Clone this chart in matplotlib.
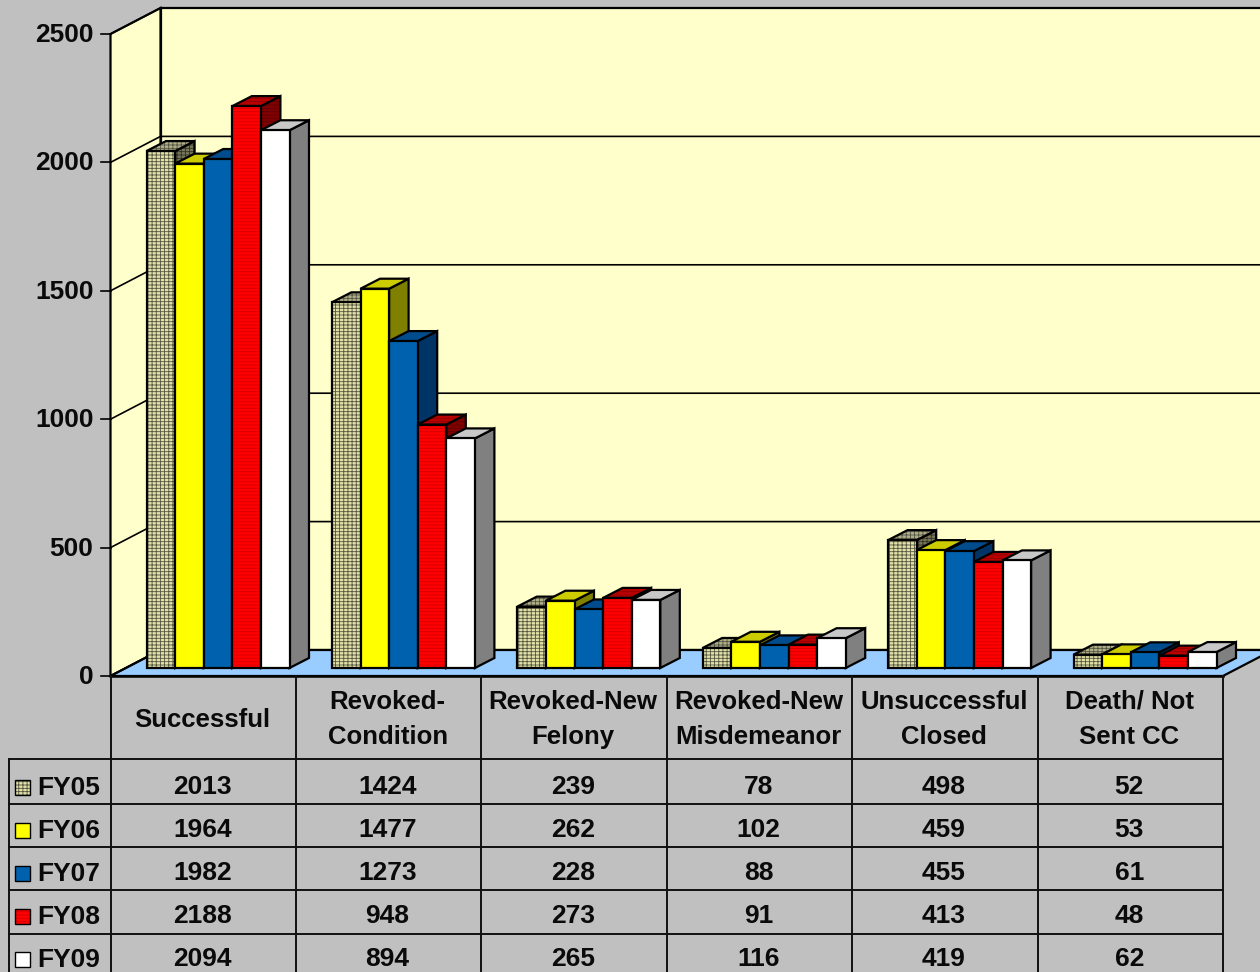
import matplotlib
matplotlib.use("Agg")
import matplotlib.pyplot as plt
from matplotlib.patches import Polygon

plt.rcParams['font.family'] = ['Liberation Sans', 'DejaVu Sans']
plt.rcParams['hatch.linewidth'] = 0.6

categories = [["Successful"], ["Revoked-", "Condition"], ["Revoked-New", "Felony"],
              ["Revoked-New", "Misdemeanor"], ["Unsuccessful", "Closed"], ["Death/ Not", "Sent CC"]]
series_names = ["FY05", "FY06", "FY07", "FY08", "FY09"]
fy05 = [2013, 1424, 239, 78, 498, 52]
fy06 = [1964, 1477, 262, 102, 459, 53]
fy07 = [1982, 1273, 228, 88, 455, 61]
fy08 = [2188, 948, 273, 91, 413, 48]
fy09 = [2094, 894, 265, 116, 419, 62]
series = [fy05, fy06, fy07, fy08, fy09]
y_ticks = [0, 500, 1000, 1500, 2000, 2500]

front = ["#E0E0A8", "#FFFF00", "#0062AE", "#FF0000", "#FFFFFF"]
top = ["#B0B088", "#CCCC00", "#004C8C", "#B80000", "#C8C8C8"]
side = ["#77775C", "#808000", "#003366", "#800000", "#808080"]
hatches = ["-----||||", None, None, "-----", None]
hatch_col = ["#55553F", None, None, "#D40000", None]

BG, WALL, FLOOR = "#C0C0C0", "#FFFFCC", "#99CCFF"
W, H = 1260, 972
X0, XSTEP = 110.5, 185.4
Y0, SCALE = 676.0, 642.0 / 2500
WALL_DX, WALL_DY = 50, -26
BAR_BASE_DY, BAR_DX0, BAR_W = -8, 36.0, 28.6
DEPTH_DX, DEPTH_DY = 19.5, -10
ROW_Y = [759, 804, 847, 890, 934, 972]
TXT = "#0A0A0A"
FS = 19
FS_HEAD = 18.5
TEXT_DX = -1.0

fig = plt.figure(figsize=(W / 100, H / 100), dpi=100, facecolor=BG)
ax = fig.add_axes([0, 0, 1, 1])
ax.set_xlim(0, W)
ax.set_ylim(H, 0)
ax.axis("off")


def vy(v):
    return Y0 - v * SCALE


def poly(pts, fc, ec="black", lw=1.6, z=2, hatch=None, hc=None):
    if hatch:
        ax.add_patch(Polygon(pts, closed=True, facecolor=fc, edgecolor=hc, lw=0, hatch=hatch, zorder=z))
        ax.add_patch(Polygon(pts, closed=True, fill=False, edgecolor=ec, lw=lw, zorder=z))
    else:
        ax.add_patch(Polygon(pts, closed=True, facecolor=fc, edgecolor=ec, lw=lw, zorder=z))


# walls and floor
top_back = vy(y_ticks[-1]) + WALL_DY
base_back = vy(0) + WALL_DY
xb = X0 + WALL_DX
poly([(xb, top_back), (W + 5, top_back), (W + 5, base_back), (xb, base_back)], WALL, lw=1.6, z=1)
poly([(X0, vy(y_ticks[-1])), (xb, top_back), (xb, base_back), (X0, vy(0))], WALL, lw=1.6, z=1)
xr = X0 + 6 * XSTEP
poly([(X0, vy(0)), (xb, base_back), (W + 5, base_back), (W + 5, vy(0) - (W + 5 - xr) * 26 / 50), (xr, vy(0))],
     FLOOR, lw=1.6, z=1)

# gridlines and ticks
for t in y_ticks:
    y = vy(t)
    ax.plot([X0, xb, W + 5], [y, y + WALL_DY, y + WALL_DY], color="black", lw=1.2, zorder=1.5)
    ax.plot([X0 - 10, X0], [y, y], color="black", lw=1.2, zorder=1.5)
    ax.text(93.5, y + 1, str(t), ha="right", va="center", fontsize=FS, fontweight="bold", color=TXT, zorder=6)

# bars
for c in range(len(categories)):
    for s, vals in enumerate(series):
        x1 = X0 + c * XSTEP + BAR_DX0 + s * BAR_W
        x2 = x1 + BAR_W
        yb = vy(0) + BAR_BASE_DY
        yt = yb - vals[c] * SCALE
        z = 2 + c + s * 0.1
        poly([(x2, yb), (x2, yt), (x2 + DEPTH_DX, yt + DEPTH_DY), (x2 + DEPTH_DX, yb + DEPTH_DY)],
             side[s], z=z, hatch=hatches[s], hc="#333322" if s == 0 else "#600000")
        poly([(x1, yt), (x2, yt), (x2 + DEPTH_DX, yt + DEPTH_DY), (x1 + DEPTH_DX, yt + DEPTH_DY)],
             top[s], z=z, hatch=hatches[s], hc="#555544" if s == 0 else "#900000")
        poly([(x1, yb), (x2, yb), (x2, yt), (x1, yt)], front[s], z=z, hatch=hatches[s], hc=hatch_col[s])

# data table
LEFT = 9
TLW = 1.4
ax.plot([X0, xr], [Y0, Y0], color="black", lw=1.8, zorder=20)
for i in range(7):
    ax.plot([X0 + i * XSTEP] * 2, [Y0, H], color="#111111", lw=TLW, zorder=20)
ax.plot([LEFT, LEFT], [ROW_Y[0], H], color="#111111", lw=TLW, zorder=20)
for y in ROW_Y[:-1]:
    ax.plot([LEFT, xr], [y, y], color="#111111", lw=TLW, zorder=20)

for c, lines in enumerate(categories):
    xc = X0 + (c + 0.5) * XSTEP + TEXT_DX
    ym = (Y0 + ROW_Y[0]) / 2
    if len(lines) == 1:
        ax.text(xc, ym + 2, lines[0], ha="center", va="center", fontsize=FS_HEAD, fontweight="bold", color=TXT, zorder=21)
    else:
        ax.text(xc, ym - 16, lines[0], ha="center", va="center", fontsize=FS_HEAD, fontweight="bold", color=TXT, zorder=21)
        ax.text(xc, ym + 19, lines[1], ha="center", va="center", fontsize=FS_HEAD, fontweight="bold", color=TXT, zorder=21)

row_text_y = [787, 830, 873, 916, 959]
for r, name in enumerate(series_names):
    yc = row_text_y[r]
    ax.text(37.5, yc + 0.5, name, ha="left", va="center", fontsize=FS, fontweight="bold", color=TXT, zorder=21)
    sw = [(15, yc - 7), (30, yc - 7), (30, yc + 8), (15, yc + 8)]
    poly(sw, front[r], lw=1.0, z=21, hatch=hatches[r], hc=hatch_col[r])
    for c in range(len(categories)):
        ax.text(X0 + (c + 0.5) * XSTEP + TEXT_DX, yc, str(series[r][c]), ha="center", va="center",
                fontsize=FS, fontweight="bold", color=TXT, zorder=21)

fig.savefig("out.png", dpi=100, facecolor=BG)
